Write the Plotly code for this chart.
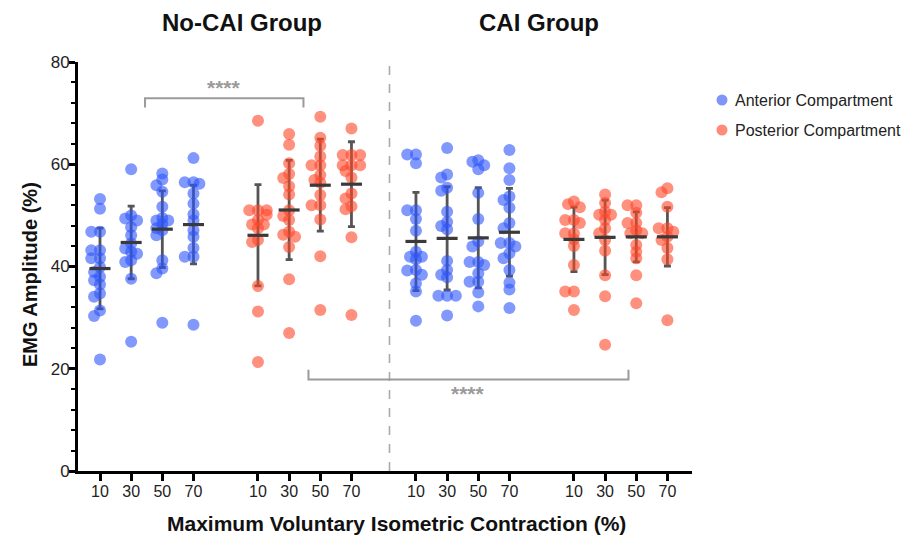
import plotly.graph_objects as go

# ---------------- data ----------------
mvic_labels = ["10", "30", "50", "70"]
group_names = ["No-CAI Group", "CAI Group"]
legend_names = ["Anterior Compartment", "Posterior Compartment"]

# No-CAI, anterior
nocai_ant = [
    [53.2, 51.3, 46.8, 46.8, 43.2, 43.2, 41.6, 41.6, 39.9, 38.9, 38.0, 37.3, 36.5, 34.7, 34.1, 31.4, 30.3, 21.8],
    [59.0, 50.0, 49.4, 49.0, 47.7, 46.1, 44.5, 43.5, 42.9, 42.5, 41.2, 40.9, 37.6, 25.3],
    [58.2, 57.0, 55.9, 54.6, 51.7, 49.5, 49.0, 49.0, 48.3, 47.5, 47.1, 46.1, 41.2, 39.6, 38.7, 29.0],
    [61.2, 56.5, 56.5, 56.2, 54.3, 52.3, 50.2, 49.0, 47.1, 45.8, 43.6, 41.9, 41.9, 28.6],
]
# No-CAI, posterior
nocai_post = [
    [68.5, 51.0, 51.0, 51.0, 50.1, 49.1, 48.2, 48.2, 47.5, 45.2, 44.8, 36.2, 31.2, 21.3],
    [65.9, 63.8, 60.2, 58.1, 57.3, 55.7, 54.1, 51.0, 49.9, 49.1, 46.8, 46.2, 45.8, 43.8, 37.5, 27.0],
    [69.3, 65.2, 63.6, 61.5, 59.8, 59.8, 57.9, 56.9, 56.4, 54.0, 52.0, 52.0, 49.2, 42.0, 31.5],
    [67.0, 61.8, 61.8, 61.8, 59.8, 59.8, 59.8, 58.7, 57.4, 54.3, 53.3, 51.8, 51.2, 45.7, 30.5],
]
# CAI, anterior
cai_ant = [
    [61.9, 61.9, 60.2, 51.0, 51.0, 49.3, 47.0, 42.9, 41.9, 41.9, 41.4, 39.3, 39.2, 38.4, 36.7, 35.1, 29.4],
    [63.2, 58.0, 57.4, 55.4, 54.8, 50.7, 48.7, 47.9, 47.3, 41.1, 39.3, 38.4, 37.9, 34.3, 34.3, 34.3, 30.4],
    [60.8, 60.5, 59.8, 59.0, 54.4, 49.3, 44.9, 43.9, 40.9, 40.9, 40.3, 38.7, 37.0, 37.0, 34.9, 32.2],
    [62.8, 59.2, 56.9, 53.7, 53.0, 51.5, 48.5, 47.5, 44.6, 44.6, 43.9, 42.6, 41.6, 39.3, 36.8, 35.5, 31.9],
]
# CAI, posterior
cai_post = [
    [52.7, 52.2, 51.6, 49.1, 49.1, 48.5, 46.5, 46.5, 45.3, 44.0, 40.3, 35.1, 35.1, 31.5],
    [54.1, 52.4, 50.7, 50.1, 50.1, 49.1, 47.5, 46.5, 45.2, 43.1, 38.3, 34.2, 24.7],
    [52.0, 52.0, 50.5, 48.5, 48.5, 47.1, 46.5, 46.5, 44.2, 42.9, 41.6, 38.3, 32.8],
    [55.3, 54.5, 51.7, 47.5, 47.5, 46.8, 45.8, 45.2, 43.6, 41.4, 29.5],
]

# mean and SD
nocai_ant_mean = [39.6, 44.7, 47.3, 48.2]
nocai_ant_sd = [7.9, 7.1, 7.5, 7.7]
nocai_post_mean = [46.1, 51.05, 55.9, 56.1]
nocai_post_sd = [9.9, 9.7, 9.0, 8.3]
cai_ant_mean = [44.9, 45.5, 45.6, 46.7]
cai_ant_sd = [9.6, 10.1, 9.8, 8.6]
cai_post_mean = [45.3, 45.7, 45.8, 45.8]
cai_post_sd = [6.3, 7.3, 4.9, 5.7]

sig_label = "****"

# ---------------- styling / layout helpers ----------------
BLUE = "rgba(45,85,250,0.6)"
RED = "rgba(255,70,40,0.6)"
LEG_BLUE = "#7f96f8"
LEG_RED = "#ff8a7a"
FONT = "Arial, Liberation Sans, sans-serif"

GROUP_STEP = 5.07
PLOT_L, PLOT_R = 78, 692        # plot-area edges in page pixels
PLOT_T, PLOT_B = 62, 471
PX_X = 31.16                     # pixels per category step
X_RANGE = [-(100 - PLOT_L) / PX_X, (PLOT_R - 100) / PX_X]
PLOT_W, PLOT_H = PLOT_R - PLOT_L, PLOT_B - PLOT_T
PX_Y = PLOT_H / 80.0
DIAM = 12.0
FIG_W, FIG_H = 912, 539


def px2paper(px, py):
    return (px - PLOT_L) / PLOT_W, (PLOT_B - py) / PLOT_H


series = [
    (nocai_ant, nocai_ant_mean, nocai_ant_sd, BLUE),
    (nocai_post, nocai_post_mean, nocai_post_sd, RED),
    (cai_ant, cai_ant_mean, cai_ant_sd, BLUE),
    (cai_post, cai_post_mean, cai_post_sd, RED),
]


def swarm_offsets(values):
    """Deterministic beeswarm-like horizontal spreading (axis units)."""
    cand = [0.0, -0.19, 0.19, -0.1, 0.1, -0.28, 0.28]
    placed = []
    offs = [0.0] * len(values)
    order = sorted(range(len(values)), key=lambda k: -values[k])
    for k in order:
        v = values[k]
        best = cand[-1]
        for c in cand:
            ok = True
            for (pv, pc) in placed:
                dx = (c - pc) * PX_X
                dy = (v - pv) * PX_Y
                if dx * dx + dy * dy < (0.5 * DIAM) ** 2:
                    ok = False
                    break
            if ok:
                best = c
                break
        placed.append((v, best))
        offs[k] = best
    return offs


fig = go.Figure()

tickvals, ticktext = [], []
pos_all, mean_all, sd_all = [], [], []
for g, (groups, means, sds, color) in enumerate(series):
    for i, vals in enumerate(groups):
        pos = g * GROUP_STEP + i
        tickvals.append(pos)
        ticktext.append(mvic_labels[i])
        pos_all.append(pos)
        mean_all.append(means[i])
        sd_all.append(sds[i])

# error bars (SD)
fig.add_trace(go.Scatter(
    x=pos_all, y=mean_all, mode="markers",
    marker=dict(size=1, color="rgba(0,0,0,0)"),
    error_y=dict(type="data", array=sd_all, visible=True, color="#555555",
                 thickness=2.8, width=3.5),
    showlegend=False, hoverinfo="skip"))

# points
for g, (groups, means, sds, color) in enumerate(series):
    for i, vals in enumerate(groups):
        pos = g * GROUP_STEP + i
        offs = swarm_offsets(vals)
        fig.add_trace(go.Scatter(
            x=[pos + o for o in offs], y=vals, mode="markers",
            marker=dict(size=DIAM, color=color, line=dict(width=0)),
            showlegend=False))

# mean lines
fig.add_trace(go.Scatter(
    x=pos_all, y=mean_all, mode="markers",
    marker=dict(symbol="line-ew", size=15, line=dict(width=3.2, color="#3a3a3a")),
    showlegend=False, hoverinfo="skip"))

# divider
fig.add_shape(type="line", x0=9.29, x1=9.29, y0=0, y1=80, xref="x", yref="y",
              line=dict(color="#aaaaaa", width=1.6, dash="dash"))

# significance brackets
GRAY = "#9a9a9a"
fig.add_shape(type="path", xref="x", yref="y",
              path="M 1.445 71.1 L 1.445 72.9 L 6.53 72.9 L 6.53 71.1",
              line=dict(color=GRAY, width=2))
fig.add_annotation(x=(1.445 + 6.53) / 2, y=75.0, xref="x", yref="y", text=sig_label,
                   showarrow=False, xanchor="center", yanchor="middle",
                   font=dict(family=FONT, size=21, color=GRAY, weight="bold"))
fig.add_shape(type="path", xref="x", yref="y",
              path="M 6.69 19.8 L 6.69 17.9 L 16.96 17.9 L 16.96 19.8",
              line=dict(color=GRAY, width=2))
fig.add_annotation(x=(6.69 + 16.96) / 2, y=15.1, xref="x", yref="y", text=sig_label,
                   showarrow=False, xanchor="center", yanchor="middle",
                   font=dict(family=FONT, size=21, color=GRAY, weight="bold"))

# group titles
for name, cx in zip(group_names, [242, 539]):
    ax, ay = px2paper(cx, 22)
    fig.add_annotation(x=ax, y=ay, xref="paper", yref="paper", text=f"<b>{name}</b>",
                       showarrow=False, xanchor="center", yanchor="middle",
                       font=dict(family=FONT, size=24, color="#111"))

# axis titles
ax, ay = px2paper(30, 275)
fig.add_annotation(x=ax, y=ay, xref="paper", yref="paper",
                   text="<b>EMG Amplitude (%)</b>", textangle=-90, showarrow=False,
                   xanchor="center", yanchor="middle",
                   font=dict(family=FONT, size=20, color="#111"))
ax, ay = px2paper(396, 523)
fig.add_annotation(x=ax, y=ay, xref="paper", yref="paper",
                   text="<b>Maximum Voluntary Isometric Contraction (%)</b>", showarrow=False,
                   xanchor="center", yanchor="middle",
                   font=dict(family=FONT, size=21, color="#111"))

# legend (manual)
for ly, col, name in [(100, LEG_BLUE, legend_names[0]), (130, LEG_RED, legend_names[1])]:
    mx, my = px2paper(722, ly)
    fig.add_shape(type="circle", xref="paper", yref="paper", xsizemode="pixel", ysizemode="pixel",
                  xanchor=mx, yanchor=my, x0=-5.5, x1=5.5, y0=-5.5, y1=5.5,
                  fillcolor=col, line=dict(width=0))
    tx, ty = px2paper(733, ly)
    fig.add_annotation(x=tx, y=ty, xref="paper", yref="paper", text=name,
                       showarrow=False, xanchor="left", yanchor="middle",
                       font=dict(family=FONT, size=16, color="#222"))

fig.update_layout(
    width=FIG_W, height=FIG_H,
    margin=dict(l=PLOT_L, t=PLOT_T, r=FIG_W - PLOT_R, b=FIG_H - PLOT_B),
    plot_bgcolor="white", paper_bgcolor="white",
    font=dict(family=FONT, size=16, color="#222"),
    showlegend=False,
)
fig.update_xaxes(range=X_RANGE, tickvals=tickvals, ticktext=ticktext,
                 showline=True, linecolor="black", linewidth=3,
                 ticks="outside", ticklen=7, tickwidth=2.5, tickcolor="black",
                 ticklabelstandoff=-3,
                 showgrid=False, zeroline=False, tickfont=dict(size=16))
fig.update_yaxes(range=[0, 80], tickvals=[0, 20, 40, 60, 80],
                 showline=True, linecolor="black", linewidth=3,
                 ticks="outside", ticklen=6, tickwidth=2.5, tickcolor="black",
                 ticklabelstandoff=-4,
                 minor=dict(dtick=4, ticks="outside", ticklen=4, tickwidth=2, tickcolor="black"),
                 showgrid=False, zeroline=False, tickfont=dict(size=17))

# remove the page's default body margin so the figure sits at the window origin
fig.write_html("out.html",
               config={"displayModeBar": False},
               post_script="document.body.style.margin='0px';document.body.style.overflow='hidden';")
